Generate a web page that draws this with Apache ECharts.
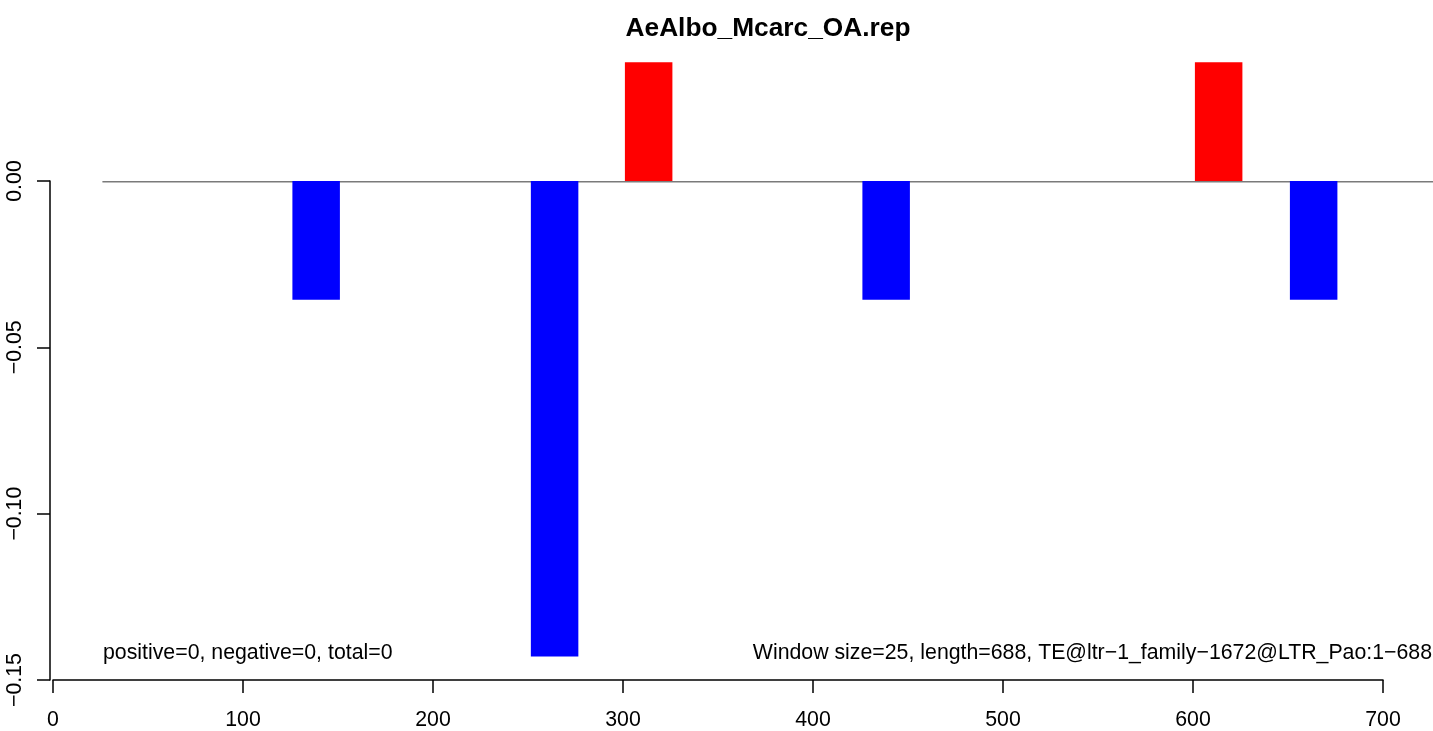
<!DOCTYPE html>
<html>
<head>
<meta charset="utf-8">
<script src="https://cdn.jsdelivr.net/npm/echarts@6/dist/echarts.min.js"></script>
<style>
html,body{margin:0;padding:0;background:#fff;overflow:hidden;}
#chart{width:1433px;height:731px;}
</style>
</head>
<body>
<div id="chart"></div>
<script>
// ---- data ----
var chartTitle = 'AeAlbo_Mcarc_OA.rep';
var windowSize = 25;
var windowStarts = [126, 251.5, 301, 426, 601, 651];
var windowValues = [-0.0357, -0.1429, 0.0357, -0.0357, 0.0357, -0.0357];
var zeroLineRange = [26, 730];
var xTicks = [0, 100, 200, 300, 400, 500, 600, 700];
var yTicks = [-0.15, -0.10, -0.05, 0.00];
var leftNote = 'positive=0, negative=0, total=0';
var rightNote = 'Window size=25, length=688, TE@ltr\u22121_family\u22121672@LTR_Pao:1\u2212688';

var FONT = '"Liberation Sans", Arial, Helvetica, sans-serif';

var barData = windowStarts.map(function (s, i) {
  return [s, s + windowSize, windowValues[i]];
});

var chart = echarts.init(document.getElementById('chart'), null, {renderer: 'canvas', width: 1433, height: 731});

var option = {
  animation: false,
  backgroundColor: '#ffffff',
  grid: {left: 53, top: 181, width: 1330, height: 502, containLabel: false},
  xAxis: {
    type: 'value',
    min: xTicks[0],
    max: xTicks[xTicks.length - 1],
    interval: 100,
    axisLine: {show: true, onZero: false, lineStyle: {color: '#000', width: 1.5}},
    axisTick: {show: true, length: 13, lineStyle: {color: '#000', width: 1.5}},
    axisLabel: {margin: 30, fontFamily: FONT, fontSize: 21.3, color: '#000'},
    splitLine: {show: false}
  },
  yAxis: {
    type: 'value',
    min: yTicks[0],
    max: yTicks[yTicks.length - 1],
    interval: 0.05,
    offset: 3,
    axisLine: {show: true, onZero: false, lineStyle: {color: '#000', width: 1.5}},
    axisTick: {show: true, length: 13, lineStyle: {color: '#000', width: 1.5}},
    axisLabel: {
      rotate: 90,
      margin: 24,
      fontFamily: FONT,
      fontSize: 21.3,
      color: '#000',
      formatter: function (v) { return v.toFixed(2).replace('-', '\u2212'); }
    },
    splitLine: {show: false}
  },
  series: [
    {
      type: 'custom',
      clip: false,
      silent: true,
      z: 1,
      data: [[zeroLineRange[0], zeroLineRange[1], 0]],
      encode: {x: [0, 1], y: 2},
      renderItem: function (params, api) {
        var a = api.coord([api.value(0), api.value(2)]);
        var b = api.coord([api.value(1), api.value(2)]);
        return {
          type: 'line',
          shape: {x1: a[0], y1: a[1] + 0.75, x2: b[0], y2: b[1] + 0.75},
          style: {stroke: '#7a7a7a', lineWidth: 1.5}
        };
      }
    },
    {
      type: 'custom',
      clip: false,
      z: 2,
      data: barData,
      encode: {x: [0, 1], y: 2},
      renderItem: function (params, api) {
        var p0 = api.coord([api.value(0), 0]);
        var p1 = api.coord([api.value(1), api.value(2)]);
        var v = api.value(2);
        return {
          type: 'rect',
          shape: {
            x: p0[0],
            y: Math.min(p0[1], p1[1]),
            width: p1[0] - p0[0],
            height: Math.abs(p1[1] - p0[1])
          },
          style: {fill: v >= 0 ? '#ff0000' : '#0000ff'}
        };
      }
    }
  ],
  graphic: [
    {
      type: 'text',
      x: 768,
      y: 29,
      style: {text: chartTitle, font: 'bold 26.3px ' + FONT, fill: '#000', align: 'center', verticalAlign: 'middle'}
    },
    {
      type: 'text',
      x: 103,
      y: 653,
      style: {text: leftNote, font: '21.3px ' + FONT, fill: '#000', align: 'left', verticalAlign: 'middle'}
    },
    {
      type: 'text',
      x: 1432,
      y: 653,
      style: {text: rightNote, font: '21.3px ' + FONT, fill: '#000', align: 'right', verticalAlign: 'middle'}
    }
  ]
};

chart.setOption(option);
</script>
</body>
</html>
